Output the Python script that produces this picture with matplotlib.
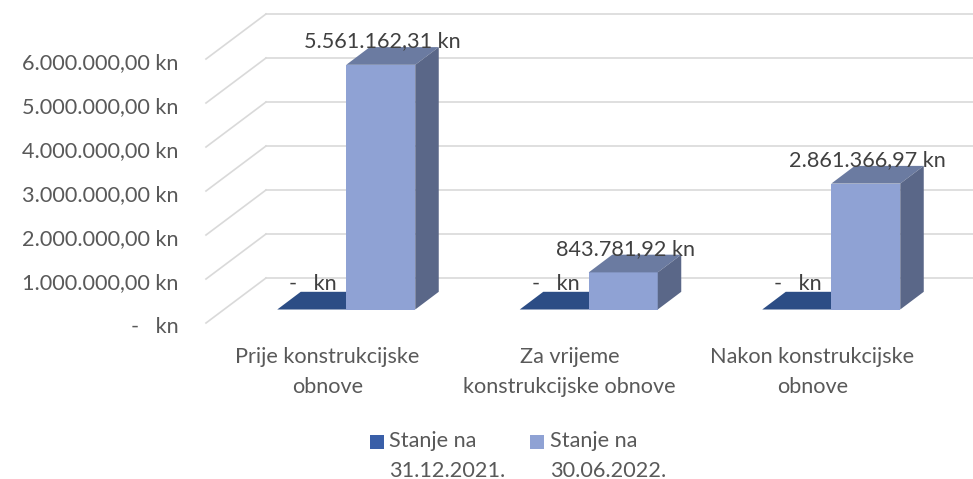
import matplotlib
matplotlib.use('Agg')
import matplotlib.pyplot as plt
from matplotlib.patches import Polygon, Rectangle
from matplotlib.transforms import ScaledTranslation

plt.rcParams['font.family'] = ['Lato', 'DejaVu Sans']

categories = ['Prije konstrukcijske\nobnove', 'Za vrijeme\nkonstrukcijske obnove', 'Nakon konstrukcijske\nobnove']
stanje_2021 = [0, 0, 0]
stanje_2022 = [5561162.31, 843781.92, 2861366.97]
labels_2021 = ['-   kn', '-   kn', '-   kn']
labels_2022 = ['5.561.162,31 kn', '843.781,92 kn', '2.861.366,97 kn']
y_ticks = [0, 1000000, 2000000, 3000000, 4000000, 5000000, 6000000]
y_labels = ['-   kn', '1.000.000,00 kn', '2.000.000,00 kn', '3.000.000,00 kn',
            '4.000.000,00 kn', '5.000.000,00 kn', '6.000.000,00 kn']
legend_labels = ['Stanje na\n31.12.2021.', 'Stanje na\n30.06.2022.']

W, H = 973, 479
FS = 15.6
fig = plt.figure(figsize=(W / 100, H / 100), dpi=100)
# front plane of the fake 3d box, in pixels
ax = fig.add_axes([206 / W, (H - 323) / H, 727.5 / W, 264 / H])
ax.set_xlim(-0.5, 2.5)
ax.set_ylim(0, 6000000)

# pixel to data units
px = 3 / 727.5
py = 6000000 / 264

grid = '#D9D9D9'
x0 = -0.5
for v in y_ticks:
    ax.plot([x0, x0 + 60 * px], [v, v + 45 * py], color=grid, lw=1.2, clip_on=False, zorder=1)
    ax.plot([x0 + 60 * px, 2.5 + 60 * px], [v + 45 * py, v + 45 * py], color=grid, lw=1.2,
            clip_on=False, zorder=1)

# bars sit part way into the box
off_x = 19 * px
off_y = 13.5 * py
bw = 69 * px
dx = 23.5 * px
dy = 17.7 * py

for i in range(3):
    xl = i + off_x
    # dark series, zero height so only the top shows
    top = stanje_2021[i] + off_y
    ax.add_patch(Polygon([(xl - bw, top), (xl, top), (xl + dx, top + dy), (xl - bw + dx, top + dy)],
                         closed=True, fc='#2C4D85', ec='none', zorder=2, clip_on=False))
    ax.annotate(labels_2021[i], (xl - bw / 2, top), xytext=(1, 25 * 0.72), textcoords='offset points',
                ha='center', va='center', fontsize=FS, color='#404040', zorder=6, annotation_clip=False)

    top = stanje_2022[i] + off_y
    ax.bar(xl + bw / 2, stanje_2022[i], bw, bottom=off_y, color='#8FA2D4', zorder=3, clip_on=False)
    ax.add_patch(Polygon([(xl, top), (xl + bw, top), (xl + bw + dx, top + dy), (xl + dx, top + dy)],
                         closed=True, fc='#6B7BA1', ec='none', zorder=3, clip_on=False))
    ax.add_patch(Polygon([(xl + bw, off_y), (xl + bw + dx, off_y + dy), (xl + bw + dx, top + dy), (xl + bw, top)],
                         closed=True, fc='#5A6788', ec='none', zorder=3, clip_on=False))
    ax.annotate(labels_2022[i], (xl + bw / 2, top), xytext=(2 * 0.72, 23.5 * 0.72), textcoords='offset points',
                ha='center', va='center', fontsize=FS, color='#404040', zorder=6, annotation_clip=False)

ax.set_yticks(y_ticks)
ax.set_yticklabels(y_labels, fontsize=FS, color='#595959')
ax.set_xticks(range(3))
ax.set_xticklabels(categories, fontsize=FS, color='#595959', linespacing=1.65)
ax.tick_params(axis='y', length=0, pad=20)
ax.tick_params(axis='x', length=0, pad=17)
for s in ax.spines.values():
    s.set_visible(False)

# tick labels sit a bit lower than the gridline ends
shift = ScaledTranslation(0, -2 / 100, fig.dpi_scale_trans)
for t in ax.get_yticklabels():
    t.set_transform(t.get_transform() + shift)

# legend placed by hand, the text wraps and the swatch sits on the first line
for x_patch, x_text, col, lab in zip([370, 530], [389, 550], ['#3A5FA8', '#8FA2D4'], legend_labels):
    fig.add_artist(Rectangle((x_patch / W, (H - 449) / H), 14 / W, 14 / H, transform=fig.transFigure,
                             fc=col, ec='none'))
    fig.text(x_text / W, (H - 431) / H, lab, fontsize=FS, color='#595959', va='top', ha='left', linespacing=1.62)

plt.savefig('out.png', dpi=100)
